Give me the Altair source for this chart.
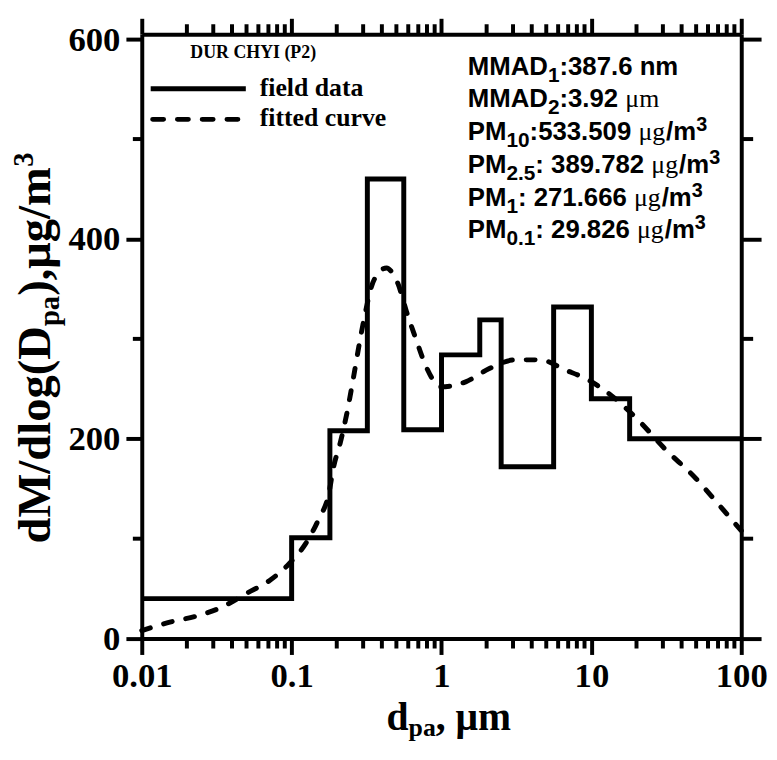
import math
import altair as alt
import pandas as pd

# ---------------- data ----------------
edges = [0.01, 0.1, 0.18, 0.32, 0.56, 1.0, 1.8, 2.5, 5.6, 10.0, 18.0, 100.0]
field = [40, 101, 208, 460, 209, 284, 319, 172, 332, 240, 200, 200]

fit_x = [0.01, 0.0159, 0.0232, 0.0348, 0.0497, 0.071, 0.0962, 0.124, 0.152, 0.177,
         0.19, 0.211, 0.234, 0.259, 0.286, 0.309, 0.342, 0.38, 0.43, 0.47,
         0.513, 0.582, 0.678, 0.79, 0.993, 1.45, 2.07, 3.11, 4.55, 6.66,
         9.5, 12.9, 16.6, 21.4, 30, 50, 70, 100]
fit_y = [8, 17, 22.5, 32, 45, 58, 75, 95, 120, 145,
         171, 196, 226, 262, 299, 325, 353, 366, 371, 366,
         355, 328, 299, 272, 252, 257, 270, 279, 279, 269,
         259, 246, 232, 216, 192, 160, 135, 108]

x_major = [0.01, 0.1, 1, 10, 100]
x_minor = [0.02, 0.03, 0.04, 0.05, 0.06, 0.07, 0.08, 0.09,
           0.2, 0.3, 0.4, 0.5, 0.6, 0.7, 0.8, 0.9,
           2, 3, 4, 5, 6, 7, 8, 9,
           20, 30, 40, 50, 60, 70, 80, 90]
y_major = [0, 200, 400, 600]
y_minor = [100, 300, 500]

legend_title = "DUR CHYI (P2)"
legend_labels = ["field data", "fitted curve"]

ann_lines = [
    [("MMAD", "n"), ("1", "sub"), (":387.6 nm", "n")],
    [("MMAD", "n"), ("2", "sub"), (":3.92 ", "n"), ("μm", "mu")],
    [("PM", "n"), ("10", "sub"), (":533.509 ", "n"), ("μg", "mu"), ("/m", "n"), ("3", "sup")],
    [("PM", "n"), ("2.5", "sub"), (": 389.782 ", "n"), ("μg", "mu"), ("/m", "n"), ("3", "sup")],
    [("PM", "n"), ("1", "sub"), (": 271.666 ", "n"), ("μg", "mu"), ("/m", "n"), ("3", "sup")],
    [("PM", "n"), ("0.1", "sub"), (": 29.826 ", "n"), ("μg", "mu"), ("/m", "n"), ("3", "sup")],
]
xtitle = [("d", "n"), ("pa", "sub"), (", μm", "n")]
ytitle = [("dM/dlog(D", "n"), ("pa", "sub"), ("),μg/m", "n"), ("3", "sup")]

# ---------------- layout ----------------
W, H = 605, 610
XMIN, XMAX, YMAX = 0.01, 100.0, 605.0
xs = alt.Scale(type="log", domain=[XMIN, XMAX])
ys = alt.Scale(domain=[0, YMAX])
PX_PER_DECADE = W / math.log10(XMAX / XMIN)
PX_PER_UNIT = H / YMAX

SANS_B = {"M": 833, "A": 722, "D": 722, "P": 667, ":": 333, ".": 278, " ": 278,
          "n": 611, "m": 889, "/": 278}
SERIF_R = {"μ": 576, "g": 500, "m": 778}
SERIF_B = {"d": 556, "M": 944, "/": 278, "l": 278, "o": 500, "g": 500, "(": 333,
           "D": 722, "p": 556, "a": 500, ")": 333, ",": 250, " ": 250, "μ": 576,
           "m": 833}


def width(text, table, size):
    return sum(table.get(c, 556) for c in text) * size / 1000.0


rows = []
AX, AY, ASTEP = 329, 41, 33
MAIN, SUB, SUP = 26, 21, 20
for i, line in enumerate(ann_lines):
    x = AX
    y0 = AY + i * ASTEP
    for txt, role in line:
        if role == "n":
            rows.append(dict(t=txt, px=x, py=y0, s=MAIN, g="sans"))
            x += width(txt, SANS_B, MAIN)
        elif role == "sub":
            rows.append(dict(t=txt, px=x, py=y0 + 7, s=SUB, g="sans"))
            x += width(txt, SANS_B, SUB)
        elif role == "sup":
            rows.append(dict(t=txt, px=x, py=y0 - 9, s=SUP, g="sans"))
            x += width(txt, SANS_B, SUP)
        else:
            rows.append(dict(t=txt, px=x, py=y0, s=MAIN, g="serif"))
            x += width(txt, SERIF_R, MAIN)

TS, TSUB = 40, 26
x = 247
for txt, role in xtitle:
    sz = TS if role == "n" else TSUB
    rows.append(dict(t=txt, px=x, py=702 + (6 if role == "sub" else 0), s=sz, g="bold"))
    x += width(txt, SERIF_B, sz)

rows.append(dict(t=legend_title, px=49, py=24, s=18, g="bold"))
rows.append(dict(t=legend_labels[0], px=119, py=62, s=26, g="bold"))
rows.append(dict(t=legend_labels[1], px=119, py=93, s=26, g="bold"))

YS, YSUB = 47, 29
yrows = []
y = 514
for txt, role in ytitle:
    sz = YS if role == "n" else YSUB
    dx = 0 if role == "n" else (9 if role == "sub" else -17)
    yrows.append(dict(t=txt, px=-93 + dx, py=y, s=sz))
    y -= width(txt, SERIF_B, sz)

tdf = pd.DataFrame(rows)
ydf = pd.DataFrame(yrows)


def text_layer(df, **kw):
    return alt.Chart(df).mark_text(color="black", **kw).encode(
        x=alt.X("px:Q", scale=None, axis=None),
        y=alt.Y("py:Q", scale=None, axis=None),
        size=alt.Size("s:Q", scale=None, legend=None),
        text="t:N",
    )


# ---------------- minor ticks (rules in data space, outward from the frame) ----------------
LX, LL, LR = 10, 9, 12   # tick lengths in px: x axes, left, right
dy_x = LX / PX_PER_UNIT
xl_end = XMIN * 10 ** (-LL / PX_PER_DECADE)
xr_end = XMAX * 10 ** (LR / PX_PER_DECADE)
tick_rows = ([dict(x1=v, x2=v, y1=0.0, y2=-dy_x) for v in x_minor]
             + [dict(x1=v, x2=v, y1=YMAX, y2=YMAX + dy_x) for v in x_minor]
             + [dict(x1=XMIN, x2=xl_end, y1=float(v), y2=float(v)) for v in y_minor]
             + [dict(x1=XMAX, x2=xr_end, y1=float(v), y2=float(v)) for v in y_minor])
minor = alt.Chart(pd.DataFrame(tick_rows)).mark_rule(
    color="black", strokeWidth=4, opacity=1
).encode(
    x=alt.X("x1:Q", scale=xs, axis=None), x2="x2:Q",
    y=alt.Y("y1:Q", scale=ys, axis=None), y2="y2:Q",
)

# ---------------- data marks ----------------
hist = alt.Chart(pd.DataFrame({"d": edges, "v": field})).mark_line(
    interpolate="step-after", color="black", strokeWidth=5
).encode(
    x=alt.X("d:Q", scale=xs, axis=alt.Axis(
        orient="bottom", values=x_major, format=".2~f", labelFlush=False,
        tickSize=16, labelPadding=4, title=None)),
    y=alt.Y("v:Q", scale=ys, axis=alt.Axis(
        orient="left", values=y_major, labelFlush=False,
        tickSize=16, labelPadding=6, title=None)),
)

fit = alt.Chart(pd.DataFrame({"d": fit_x, "v": fit_y})).mark_line(
    interpolate="monotone", color="black", strokeWidth=5, strokeDash=[9, 14], strokeCap="round"
).encode(
    x=alt.X("d:Q", scale=xs, axis=alt.Axis(
        orient="top", values=x_major, labels=False, title=None, tickSize=16)),
    y=alt.Y("v:Q", scale=ys, axis=alt.Axis(
        orient="right", values=y_major, labels=False, title=None, tickSize=20)),
)

one = pd.DataFrame({"a": [0]})
leg_solid = alt.Chart(one).mark_rule(color="black", strokeWidth=5).encode(
    x=alt.value(9), x2=alt.value(105), y=alt.value(55))
leg_dash = alt.Chart(one).mark_rule(color="black", strokeWidth=5, strokeDash=[11, 14],
                                    strokeCap="round").encode(
    x=alt.value(11), x2=alt.value(105), y=alt.value(86))

t_sans = text_layer(tdf[tdf.g == "sans"], font="Liberation Sans", fontWeight="bold",
                    align="left", baseline="alphabetic")
t_serif = text_layer(tdf[tdf.g == "serif"], font="Liberation Serif", fontWeight="normal",
                     align="left", baseline="alphabetic")
t_bold = text_layer(tdf[tdf.g == "bold"], font="Liberation Serif", fontWeight="bold",
                    align="left", baseline="alphabetic")
t_y = text_layer(ydf, font="Liberation Serif", fontWeight="bold", align="left",
                 baseline="alphabetic", angle=270)

chart = alt.layer(
    hist, fit, minor,
    leg_solid, leg_dash, t_sans, t_serif, t_bold, t_y,
).resolve_axis(x="independent", y="independent").properties(
    width=W, height=H,
    autosize=alt.AutoSizeParams(type="none"),
    padding={"left": 135, "top": 23, "right": 28, "bottom": 106},
).configure_axis(
    domainColor="black", domainWidth=4, tickColor="black", tickWidth=4,
    labelColor="black", labelFont="Liberation Serif", labelFontWeight="bold",
    labelFontSize=35, grid=False,
).configure_view(stroke=None)

chart.save("out.html", embed_options={"renderer": "svg", "actions": False})
